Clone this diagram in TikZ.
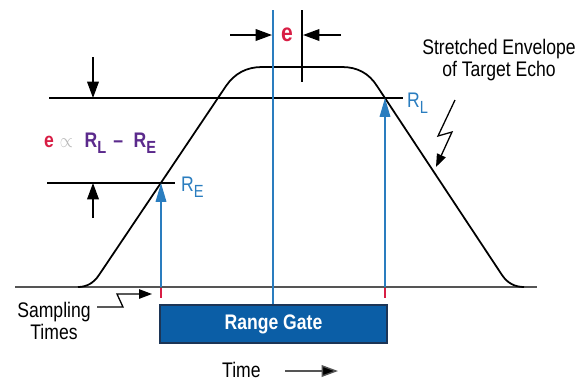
\documentclass[tikz,border=0pt]{standalone}
\usepackage{graphicx}
\usepackage{fontspec}
\setmainfont{Liberation Sans}
\usetikzlibrary{positioning, calc, arrows.meta}
\definecolor{EchoBlue}{HTML}{2A7DBF}
\definecolor{GateBlue}{HTML}{0B5EA6}
\definecolor{GateEdge}{HTML}{1C3556}
\definecolor{ErrRed}{HTML}{D81E45}
\definecolor{DiffPurple}{HTML}{5B2A8C}
\definecolor{BaseGray}{HTML}{555555}
\newcommand{\tall}[1]{\scalebox{1}[1.2]{#1}}
\newcommand{\lowsub}[1]{\raisebox{-0.55ex}{\fontsize{12.5}{13}\selectfont #1}}
\tikzset{
    lbl/.style={font=\fontsize{15}{19}\selectfont, inner sep=0pt, align=center},
    dimarrow/.style={-{Triangle[length=14pt, width=10pt]}, line width=1.2pt},
    samplearrow/.style={-{Triangle[length=16pt, width=9pt]}, line width=1.3pt, color=EchoBlue},
    boltarrow/.style={-{Triangle[length=11pt, width=8pt]}, line width=1.1pt},
    levelline/.style={line width=1.4pt},
    envelope/.style={line width=1.5pt},
    redtick/.style={line width=1.6pt, color=ErrRed},
    gate/.style={rectangle, fill=GateBlue, draw=GateEdge, line width=1.2pt, text=white, font=\fontsize{15}{17}\selectfont\bfseries, minimum width=6.81cm, minimum height=1.14cm},
}

\begin{document}
\begin{tikzpicture}[x=0.03cm, y=-0.03cm]
    \useasboundingbox (0,0) rectangle (587,381);

    % Livelli e linea di base
    \coordinate (baseL) at (15,287);
    \coordinate (baseR) at (537,287);
    \coordinate (RLstart) at (49,98);
    \coordinate (RLend) at (403,98);
    \coordinate (REstart) at (47,183);
    \coordinate (REend) at (175,183);
    \draw[line width=1.8pt, BaseGray] (baseL) -- (baseR);
    \draw[levelline] (RLstart) -- (RLend);
    \draw[levelline] (REstart) -- (REend);

    % Inviluppo dell'eco
    \draw[envelope] (78,287) .. controls (86.7,287) and (93.7,283) .. (99,275)
        -- (226,86) .. controls (234.7,73.3) and (246.7,67) .. (262,67)
        -- (342,67) .. controls (357.3,67) and (369,73.3) .. (377,86)
        -- (502,275) .. controls (507.3,283) and (514.7,287) .. (524,287);

    % Linea centrale e finestra
    \node[gate] (gate) at (273.5,324) {\tall{Range Gate}};
    \coordinate (ctop) at (273,10);
    \draw[line width=1.1pt, EchoBlue] (ctop) -- (ctop |- gate.north);
    \coordinate (ptop) at (302,10);
    \draw[line width=1.2pt] (ptop) -- (302,82);

    % Errore e
    \node[lbl, text=ErrRed, font=\fontsize{18}{20}\selectfont\bfseries] (err) at (287,35) {\tall{e}};
    \coordinate (errL) at (230,35);
    \coordinate (errR) at (341,35);
    \draw[dimarrow] (errL) -- (272,35);
    \draw[dimarrow] (errR) -- (303,35);

    % Frecce di quota a sinistra
    \coordinate (dimtop) at (93,57);
    \coordinate (dimbot) at (93,218);
    \draw[dimarrow] (dimtop) -- (dimtop |- RLstart);
    \draw[dimarrow] (dimbot) -- (dimbot |- REstart);

    \node[lbl, anchor=west] (diff) at (44,143) {\tall{\textcolor{ErrRed}{\bfseries e}\hspace{5pt}\textcolor{gray!55}{$\propto$}\hspace{10pt}\textcolor{DiffPurple}{\bfseries R\lowsub{L}\hspace{6pt}--\hspace{9pt}R\lowsub{E}}}};

    % Campionamenti
    \coordinate (sE) at (161,287);
    \coordinate (sL) at (385,287);
    \coordinate (hitE) at (161,183);
    \coordinate (hitL) at (385,98);
    \draw[samplearrow] (sE) -- (hitE);
    \draw[samplearrow] (sL) -- (hitL);
    \draw[redtick] (161,288) -- (161,298);
    \draw[redtick] (385,288) -- (385,298);
    \node[lbl, anchor=west, text=EchoBlue] (RE) at (181,187) {\tall{R\lowsub{E}}};
    \node[lbl, anchor=west, text=EchoBlue] (RL) at (407,103) {\tall{R\lowsub{L}}};

    % Didascalie
    \node[lbl] (stretch) at (499,60) {\tall{Stretched Envelope}\\\tall{of Target Echo}};
    \draw[boltarrow] (455,100) -- (438,136) -- (452,132) -- (436,167);
    \node[lbl] (sampling) at (54,321) {\tall{Sampling}\\\tall{Times}};
    \draw[boltarrow] (97,307) -- (123,307) -- (117,294) -- (152,294);
    \node[lbl, anchor=west] (time) at (222,370) {\tall{Time}};
    \coordinate (tA) at (285,371);
    \coordinate (tB) at (338,371);
    \draw[dimarrow, BaseGray, -{Triangle[length=14pt, width=10pt, fill=black]}] (tA) -- (tB);
\end{tikzpicture}
\end{document}
